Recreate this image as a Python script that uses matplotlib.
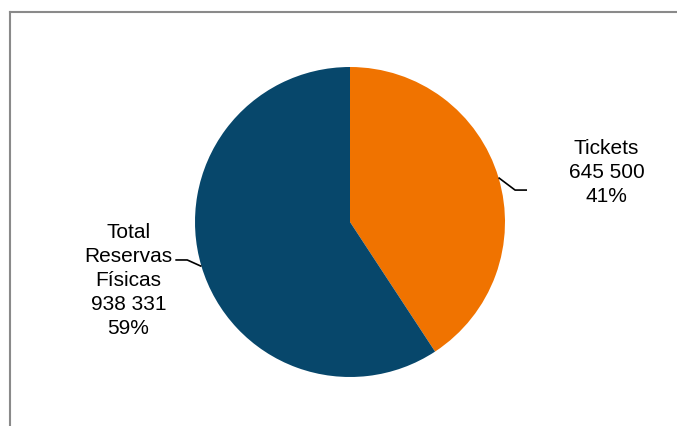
import numpy as np
import matplotlib
matplotlib.use("Agg")
import matplotlib.pyplot as plt
from matplotlib.lines import Line2D

categories = ["Tickets", "Total\nReservas\nFísicas"]
values = [645500, 938331]
value_labels = ["645 500", "938 331"]
colors = ["#F07300", "#07476B"]

plt.rcParams['font.family'] = ['Liberation Sans', 'DejaVu Sans']

W, H, DPI = 677, 426, 100
fig = plt.figure(figsize=(W / DPI, H / DPI), dpi=DPI)
fig.patch.set_facecolor("white")

cx, cy, R = 350, 222, 155
ax = fig.add_axes([0, 0, 1, 1])
wedges, _ = ax.pie(values, colors=colors, startangle=90, counterclock=False,
                   radius=1.0, center=(0, 0), wedgeprops=dict(linewidth=0))
ax.set_xlim(-cx / R, (W - cx) / R)
ax.set_ylim((cy - H) / R, cy / R)
ax.set_aspect("auto")
ax.axis("off")

total = sum(values)
pcts = [round(v / total * 100) for v in values]

# label placements (text center, elbow offsets) per wedge
text_pos = [(1.655, 0.318), (-1.43, -0.378)]
elbows = [((1.065, 0.206), (1.142, 0.206)), ((-1.05, -0.245), (-1.127, -0.245))]

for w, cat, vl, p, tp, (e1, e2) in zip(wedges, categories, value_labels, pcts, text_pos, elbows):
    ang = np.deg2rad((w.theta1 + w.theta2) / 2)
    x0, y0 = np.cos(ang), np.sin(ang)
    ax.plot([x0, e1[0], e2[0]], [y0, e1[1], e2[1]], color="black", lw=1.2,
            solid_capstyle="butt", clip_on=False)
    ax.text(tp[0], tp[1], f"{cat}\n{vl}\n{p}%", ha="center", va="center",
            fontsize=15, color="black", linespacing=1.32)

# outer frame lines (left and top)
lx, ty = 9.5 / W, 1 - 11.5 / H
fig.add_artist(Line2D([lx, lx], [0, ty], transform=fig.transFigure, color="#8a8a8a", lw=1.5))
fig.add_artist(Line2D([lx, 1], [ty, ty], transform=fig.transFigure, color="#8a8a8a", lw=1.5))

fig.savefig("out.png", dpi=DPI)
